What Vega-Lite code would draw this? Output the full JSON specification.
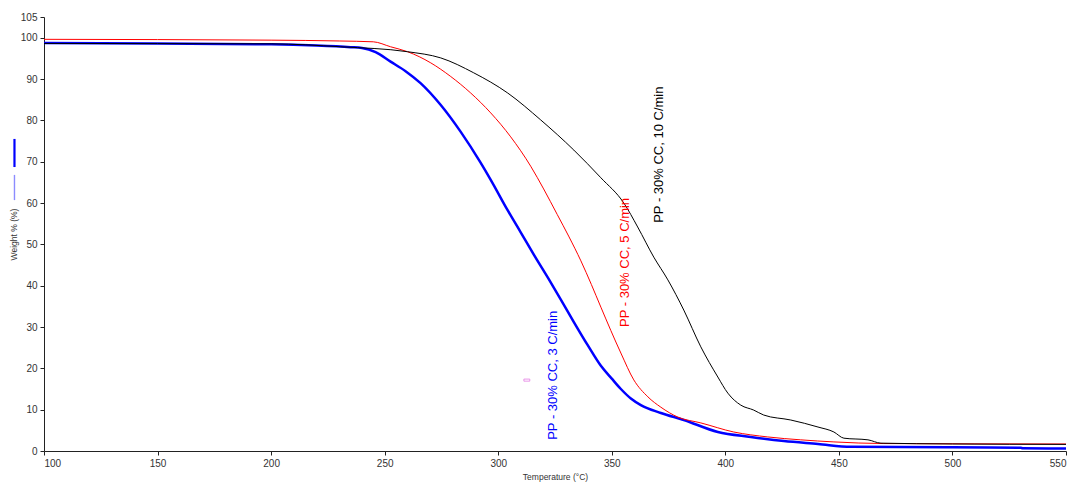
{
  "$schema": "https://vega.github.io/schema/vega-lite/v6.json",
  "width": 1022,
  "height": 434,
  "autosize": {"type": "none"},
  "padding": {"left": 44, "top": 17, "right": 9, "bottom": 31},
  "background": "white",
  "config": {
    "view": {"stroke": null},
    "axis": {
      "labelFont": "Liberation Sans",
      "labelFontSize": 10,
      "labelColor": "#333333",
      "titleFont": "Liberation Sans",
      "titleFontSize": 8.5,
      "titleFontWeight": "normal",
      "titleColor": "#333333",
      "domainColor": "#222222",
      "tickColor": "#222222",
      "tickSize": 4,
      "grid": false,
      "labelOverlap": false
    }
  },
  "datasets": {
    "curves": [
      {"s": "3", "T": 100, "W": 98.7}, {"s": "3", "T": 150, "W": 98.6}, {"s": "3", "T": 200, "W": 98.4},
      {"s": "3", "T": 220, "W": 98.1}, {"s": "3", "T": 235, "W": 97.7}, {"s": "3", "T": 240, "W": 97.5},
      {"s": "3", "T": 246, "W": 96.5}, {"s": "3", "T": 252.6, "W": 94.2}, {"s": "3", "T": 259.2, "W": 91.9},
      {"s": "3", "T": 265.8, "W": 89.0}, {"s": "3", "T": 274.7, "W": 83.7}, {"s": "3", "T": 283.5, "W": 77.2},
      {"s": "3", "T": 292.3, "W": 69.7}, {"s": "3", "T": 296.7, "W": 65.6}, {"s": "3", "T": 304.2, "W": 58.2},
      {"s": "3", "T": 309.9, "W": 52.9}, {"s": "3", "T": 316.0, "W": 47.2}, {"s": "3", "T": 322.0, "W": 41.8},
      {"s": "3", "T": 327.5, "W": 36.7}, {"s": "3", "T": 333.3, "W": 31.2}, {"s": "3", "T": 339.4, "W": 25.6},
      {"s": "3", "T": 345.2, "W": 20.6}, {"s": "3", "T": 350.0, "W": 17.5}, {"s": "3", "T": 354, "W": 15.0},
      {"s": "3", "T": 358.4, "W": 12.7}, {"s": "3", "T": 362.8, "W": 11.1},
      {"s": "3", "T": 371.6, "W": 9.2}, {"s": "3", "T": 381.7, "W": 7.5}, {"s": "3", "T": 396.7, "W": 4.6},
      {"s": "3", "T": 411.2, "W": 3.4}, {"s": "3", "T": 425.8, "W": 2.4}, {"s": "3", "T": 440.8, "W": 1.7},
      {"s": "3", "T": 455.3, "W": 1.0}, {"s": "3", "T": 500, "W": 0.9}, {"s": "3", "T": 530, "W": 0.8},
      {"s": "3", "T": 531, "W": 0.65}, {"s": "3", "T": 550, "W": 0.6},

      {"s": "5", "T": 100, "W": 99.6}, {"s": "5", "T": 200, "W": 99.4}, {"s": "5", "T": 230, "W": 99.2},
      {"s": "5", "T": 245, "W": 99.0}, {"s": "5", "T": 252.6, "W": 97.8}, {"s": "5", "T": 260.1, "W": 96.6},
      {"s": "5", "T": 270.3, "W": 93.9}, {"s": "5", "T": 279.1, "W": 90.6}, {"s": "5", "T": 287.9, "W": 86.6},
      {"s": "5", "T": 296.7, "W": 81.8}, {"s": "5", "T": 305.5, "W": 76.0}, {"s": "5", "T": 314.3, "W": 68.9},
      {"s": "5", "T": 320.0, "W": 63.4}, {"s": "5", "T": 326.0, "W": 57.2}, {"s": "5", "T": 331.0, "W": 52.0},
      {"s": "5", "T": 336.4, "W": 46.0}, {"s": "5", "T": 341.0, "W": 40.3},
      {"s": "5", "T": 345.2, "W": 34.8}, {"s": "5", "T": 354, "W": 23.7}, {"s": "5", "T": 359.7, "W": 17.2},
      {"s": "5", "T": 365.9, "W": 13.1}, {"s": "5", "T": 371.6, "W": 10.6}, {"s": "5", "T": 379.1, "W": 8.2},
      {"s": "5", "T": 389.2, "W": 6.8}, {"s": "5", "T": 403.7, "W": 4.6}, {"s": "5", "T": 418.7, "W": 3.4},
      {"s": "5", "T": 433.2, "W": 2.7}, {"s": "5", "T": 447.8, "W": 2.2}, {"s": "5", "T": 469.8, "W": 1.8},
      {"s": "5", "T": 550, "W": 1.7},

      {"s": "10", "T": 100, "W": 98.6}, {"s": "10", "T": 200, "W": 98.5}, {"s": "10", "T": 230.6, "W": 97.8},
      {"s": "10", "T": 260.1, "W": 96.6}, {"s": "10", "T": 274.7, "W": 95.1}, {"s": "10", "T": 289.2, "W": 91.5},
      {"s": "10", "T": 304.2, "W": 86.6}, {"s": "10", "T": 318.7, "W": 80.1}, {"s": "10", "T": 333.3, "W": 72.8},
      {"s": "10", "T": 345.2, "W": 66.1}, {"s": "10", "T": 355.3, "W": 60.0}, {"s": "10", "T": 361.4, "W": 54.2},
      {"s": "10", "T": 368.5, "W": 46.9}, {"s": "10", "T": 374.7, "W": 41.4}, {"s": "10", "T": 381.7, "W": 34.1},
      {"s": "10", "T": 389.2, "W": 25.2}, {"s": "10", "T": 396.7, "W": 17.9}, {"s": "10", "T": 401.1, "W": 14.0},
      {"s": "10", "T": 406.8, "W": 11.1}, {"s": "10", "T": 412.5, "W": 9.9}, {"s": "10", "T": 416.9, "W": 8.7},
      {"s": "10", "T": 428.8, "W": 7.5}, {"s": "10", "T": 440.8, "W": 5.8}, {"s": "10", "T": 447.8, "W": 4.6},
      {"s": "10", "T": 452.2, "W": 3.1}, {"s": "10", "T": 462.8, "W": 2.7}, {"s": "10", "T": 468.5, "W": 1.9},
      {"s": "10", "T": 500, "W": 1.7}, {"s": "10", "T": 550, "W": 1.6}
    ],
    "labels": [
      {"s": "3", "T": 324.0, "W": 2.7, "text": "PP - 30% CC, 3 C/min"},
      {"s": "5", "T": 355.7, "W": 30.0, "text": "PP - 30% CC, 5 C/min"},
      {"s": "10", "T": 370.6, "W": 55.2, "text": "PP - 30% CC, 10 C/min"}
    ],
    "marks": [
      {"k": "dark", "T": 87.0, "W": 75.5, "W2": 68.7},
      {"k": "light", "T": 87.0, "W": 66.8, "W2": 60.7}
    ],
    "box": [
      {"T": 311.3, "T2": 313.9, "W": 16.9, "W2": 17.4}
    ]
  },
  "encoding": {
    "x": {
      "field": "T", "type": "quantitative",
      "scale": {"domain": [100, 550], "nice": false, "zero": false},
      "axis": {"title": "Temperature (°C)", "values": [100, 150, 200, 250, 300, 350, 400, 450, 500, 550], "labelPadding": 3, "titlePadding": 4}
    },
    "y": {
      "field": "W", "type": "quantitative",
      "scale": {"domain": [0, 105], "nice": false},
      "axis": {"title": "Weight % (%)", "values": [0, 10, 20, 30, 40, 50, 60, 70, 80, 90, 100, 105], "labelPadding": 3, "titlePadding": 2}
    }
  },
  "layer": [
    {
      "data": {"name": "curves"},
      "transform": [{"filter": "datum.s === '3'"}],
      "mark": {"type": "line", "clip": true, "color": "#0000ff", "strokeWidth": 2.5, "interpolate": "monotone"},
      "encoding": {"order": {"field": "T", "type": "quantitative"}}
    },
    {
      "data": {"name": "curves"},
      "transform": [{"filter": "datum.s === '5'"}],
      "mark": {"type": "line", "clip": true, "color": "#ff0000", "strokeWidth": 1, "interpolate": "monotone"},
      "encoding": {"order": {"field": "T", "type": "quantitative"}}
    },
    {
      "data": {"name": "curves"},
      "transform": [{"filter": "datum.s === '10'"}],
      "mark": {"type": "line", "clip": true, "color": "#000000", "strokeWidth": 1, "interpolate": "monotone"},
      "encoding": {"order": {"field": "T", "type": "quantitative"}}
    },
    {
      "data": {"name": "labels"},
      "mark": {"type": "text", "angle": 270, "align": "left", "baseline": "middle", "font": "Liberation Sans", "fontSize": 13},
      "encoding": {
        "text": {"field": "text"},
        "color": {"field": "s", "type": "nominal", "scale": {"domain": ["3", "5", "10"], "range": ["#0000ff", "#ff0000", "#000000"]}, "legend": null}
      }
    },
    {
      "data": {"name": "marks"},
      "transform": [{"filter": "datum.k === 'dark'"}],
      "mark": {"type": "rule", "color": "#0000ff", "strokeWidth": 2.2},
      "encoding": {"y2": {"field": "W2"}}
    },
    {
      "data": {"name": "marks"},
      "transform": [{"filter": "datum.k === 'light'"}],
      "mark": {"type": "rule", "color": "#8c8cff", "strokeWidth": 1.4},
      "encoding": {"y2": {"field": "W2"}}
    },
    {
      "data": {"name": "box"},
      "mark": {"type": "rect", "fill": null, "stroke": "#e37ce3", "strokeWidth": 0.8},
      "encoding": {
        "x2": {"field": "T2"},
        "y2": {"field": "W2"}
      }
    }
  ]
}
